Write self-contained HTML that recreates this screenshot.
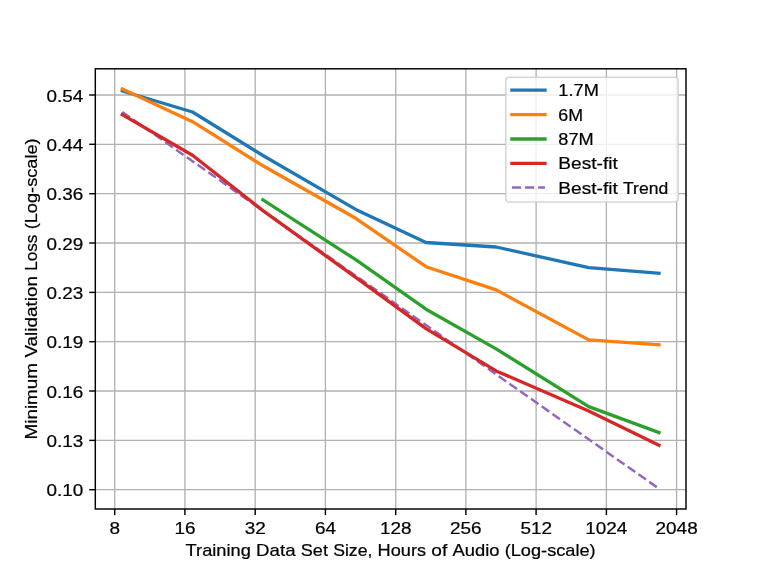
<!DOCTYPE html>
<html><head><meta charset="utf-8"><title>Validation loss vs training data size</title>
<style>html,body{margin:0;padding:0;background:#fff}svg{display:block}text{font-family:"Liberation Sans", sans-serif;font-size:16.4px;fill:#000;stroke:#000;stroke-width:0.22px}</style></head><body>
<svg width="761" height="571" viewBox="0 0 761 571">
<rect x="0" y="0" width="761" height="571" fill="#ffffff"/>
<g stroke="#b0b0b0" stroke-width="1.32" fill="none">
<line x1="114.7" y1="68.8" x2="114.7" y2="509.0"/>
<line x1="184.9" y1="68.8" x2="184.9" y2="509.0"/>
<line x1="255.2" y1="68.8" x2="255.2" y2="509.0"/>
<line x1="325.4" y1="68.8" x2="325.4" y2="509.0"/>
<line x1="395.7" y1="68.8" x2="395.7" y2="509.0"/>
<line x1="465.9" y1="68.8" x2="465.9" y2="509.0"/>
<line x1="536.1" y1="68.8" x2="536.1" y2="509.0"/>
<line x1="606.4" y1="68.8" x2="606.4" y2="509.0"/>
<line x1="676.6" y1="68.8" x2="676.6" y2="509.0"/>
<line x1="95.3" y1="95.0" x2="686.0" y2="95.0"/>
<line x1="95.3" y1="144.3" x2="686.0" y2="144.3"/>
<line x1="95.3" y1="193.7" x2="686.0" y2="193.7"/>
<line x1="95.3" y1="243.0" x2="686.0" y2="243.0"/>
<line x1="95.3" y1="292.4" x2="686.0" y2="292.4"/>
<line x1="95.3" y1="341.7" x2="686.0" y2="341.7"/>
<line x1="95.3" y1="391.0" x2="686.0" y2="391.0"/>
<line x1="95.3" y1="440.4" x2="686.0" y2="440.4"/>
<line x1="95.3" y1="489.7" x2="686.0" y2="489.7"/>
</g>
<g stroke="#000" stroke-width="1.45" fill="none">
<line x1="114.7" y1="509.0" x2="114.7" y2="515.1"/>
<line x1="184.9" y1="509.0" x2="184.9" y2="515.1"/>
<line x1="255.2" y1="509.0" x2="255.2" y2="515.1"/>
<line x1="325.4" y1="509.0" x2="325.4" y2="515.1"/>
<line x1="395.7" y1="509.0" x2="395.7" y2="515.1"/>
<line x1="465.9" y1="509.0" x2="465.9" y2="515.1"/>
<line x1="536.1" y1="509.0" x2="536.1" y2="515.1"/>
<line x1="606.4" y1="509.0" x2="606.4" y2="515.1"/>
<line x1="676.6" y1="509.0" x2="676.6" y2="515.1"/>
<line x1="89.2" y1="95.0" x2="95.3" y2="95.0"/>
<line x1="89.2" y1="144.3" x2="95.3" y2="144.3"/>
<line x1="89.2" y1="193.7" x2="95.3" y2="193.7"/>
<line x1="89.2" y1="243.0" x2="95.3" y2="243.0"/>
<line x1="89.2" y1="292.4" x2="95.3" y2="292.4"/>
<line x1="89.2" y1="341.7" x2="95.3" y2="341.7"/>
<line x1="89.2" y1="391.0" x2="95.3" y2="391.0"/>
<line x1="89.2" y1="440.4" x2="95.3" y2="440.4"/>
<line x1="89.2" y1="489.7" x2="95.3" y2="489.7"/>
</g>
<clipPath id="c"><rect x="95.3" y="68.8" width="590.7" height="440.2"/></clipPath>
<g clip-path="url(#c)" fill="none" stroke-width="3.3" stroke-linejoin="round" stroke-linecap="square">
<polyline stroke="#1f77b4" points="122.3,91.0 192.5,112.0 262.9,155.5 355.7,209.4 426.0,242.5 496.1,247.0 588.7,267.6 659.0,273.3"/>
<polyline stroke="#ff7f0e" points="122.3,89.0 192.5,121.7 262.9,165.8 355.7,218.3 426.0,266.7 496.1,289.9 588.7,339.9 659.0,344.7"/>
<polyline stroke="#2ca02c" points="262.9,199.8 355.7,259.7 426.0,309.2 496.1,348.9 588.7,406.6 659.0,432.6"/>
<line stroke="#9467bd" stroke-width="2.48" stroke-linecap="butt" stroke-dasharray="9.17 3.97" x1="122.3" y1="111.9" x2="659.0" y2="488.7"/>
<polyline stroke="#d62728" points="122.3,114.6 192.5,155.2 262.9,210.6 355.7,277.4 426.0,328.6 496.1,370.9 588.7,410.9 659.0,445.2"/>
</g>
<rect x="95.3" y="68.8" width="590.7" height="440.2" fill="none" stroke="#000" stroke-width="1.45"/>
<rect x="505.8" y="77.2" width="172.3" height="124.8" rx="3.3" ry="3.3" fill="#ffffff" fill-opacity="0.8" stroke="#cccccc" stroke-opacity="0.8" stroke-width="1.6"/>
<line x1="511.9" y1="90.2" x2="545.0" y2="90.2" stroke="#1f77b4" stroke-width="3.3" stroke-linecap="square"/>
<line x1="511.9" y1="114.6" x2="545.0" y2="114.6" stroke="#ff7f0e" stroke-width="3.3" stroke-linecap="square"/>
<line x1="511.9" y1="139.0" x2="545.0" y2="139.0" stroke="#2ca02c" stroke-width="3.3" stroke-linecap="square"/>
<line x1="511.9" y1="163.3" x2="545.0" y2="163.3" stroke="#d62728" stroke-width="3.3" stroke-linecap="square"/>
<line x1="511.9" y1="187.6" x2="545.0" y2="187.6" stroke="#9467bd" stroke-width="2.48" stroke-dasharray="9.17 3.97"/>
<filter id="g" filterUnits="userSpaceOnUse" x="0" y="0" width="761" height="571"><feOffset dx="0" dy="0"/></filter>
<g filter="url(#g)">
<text x="109.4" y="533.5" textLength="10.52" lengthAdjust="spacingAndGlyphs">8</text>
<text x="174.4" y="533.5" textLength="21.03" lengthAdjust="spacingAndGlyphs">16</text>
<text x="244.7" y="533.5" textLength="21.03" lengthAdjust="spacingAndGlyphs">32</text>
<text x="314.9" y="533.5" textLength="21.03" lengthAdjust="spacingAndGlyphs">64</text>
<text x="379.9" y="533.5" textLength="31.55" lengthAdjust="spacingAndGlyphs">128</text>
<text x="450.1" y="533.5" textLength="31.55" lengthAdjust="spacingAndGlyphs">256</text>
<text x="520.4" y="533.5" textLength="31.55" lengthAdjust="spacingAndGlyphs">512</text>
<text x="585.3" y="533.5" textLength="42.07" lengthAdjust="spacingAndGlyphs">1024</text>
<text x="655.6" y="533.5" textLength="42.07" lengthAdjust="spacingAndGlyphs">2048</text>
<text x="46.4" y="101.6" textLength="36.81" lengthAdjust="spacingAndGlyphs">0.54</text>
<text x="46.4" y="150.9" textLength="36.81" lengthAdjust="spacingAndGlyphs">0.44</text>
<text x="46.4" y="200.3" textLength="36.81" lengthAdjust="spacingAndGlyphs">0.36</text>
<text x="46.4" y="249.6" textLength="36.81" lengthAdjust="spacingAndGlyphs">0.29</text>
<text x="46.4" y="299.0" textLength="36.81" lengthAdjust="spacingAndGlyphs">0.23</text>
<text x="46.4" y="348.3" textLength="36.81" lengthAdjust="spacingAndGlyphs">0.19</text>
<text x="46.4" y="397.6" textLength="36.81" lengthAdjust="spacingAndGlyphs">0.16</text>
<text x="46.4" y="447.0" textLength="36.81" lengthAdjust="spacingAndGlyphs">0.13</text>
<text x="46.4" y="496.3" textLength="36.81" lengthAdjust="spacingAndGlyphs">0.10</text>
<text x="185.6" y="555.8" textLength="65.22" lengthAdjust="spacingAndGlyphs">Training</text>
<text x="256.1" y="555.8" textLength="39.47" lengthAdjust="spacingAndGlyphs">Data</text>
<text x="300.8" y="555.8" textLength="27.14" lengthAdjust="spacingAndGlyphs">Set</text>
<text x="333.2" y="555.8" textLength="39.19" lengthAdjust="spacingAndGlyphs">Size,</text>
<text x="377.6" y="555.8" textLength="48.43" lengthAdjust="spacingAndGlyphs">Hours</text>
<text x="431.3" y="555.8" textLength="15.93" lengthAdjust="spacingAndGlyphs">of</text>
<text x="452.5" y="555.8" textLength="46.98" lengthAdjust="spacingAndGlyphs">Audio</text>
<text x="504.7" y="555.8" textLength="90.98" lengthAdjust="spacingAndGlyphs">(Log-scale)</text>
<g transform="translate(37.4,439.5) rotate(-90)">
<text x="0.0" y="0" textLength="76.6" lengthAdjust="spacingAndGlyphs">Minimum</text>
<text x="81.9" y="0" textLength="81.63" lengthAdjust="spacingAndGlyphs">Validation</text>
<text x="168.7" y="0" textLength="36.26" lengthAdjust="spacingAndGlyphs">Loss</text>
<text x="210.2" y="0" textLength="90.98" lengthAdjust="spacingAndGlyphs">(Log-scale)</text>
</g>
<text x="558.3" y="96.2" textLength="40.55" lengthAdjust="spacingAndGlyphs">1.7M</text>
<text x="558.3" y="120.6" textLength="24.78" lengthAdjust="spacingAndGlyphs">6M</text>
<text x="558.3" y="145.0" textLength="35.3" lengthAdjust="spacingAndGlyphs">87M</text>
<text x="558.3" y="169.3" textLength="59.46" lengthAdjust="spacingAndGlyphs">Best-fit</text>
<text x="558.3" y="193.6" textLength="59.46" lengthAdjust="spacingAndGlyphs">Best-fit</text>
<text x="623.0" y="193.6" textLength="45.24" lengthAdjust="spacingAndGlyphs">Trend</text>
</g>
</svg></body></html>
